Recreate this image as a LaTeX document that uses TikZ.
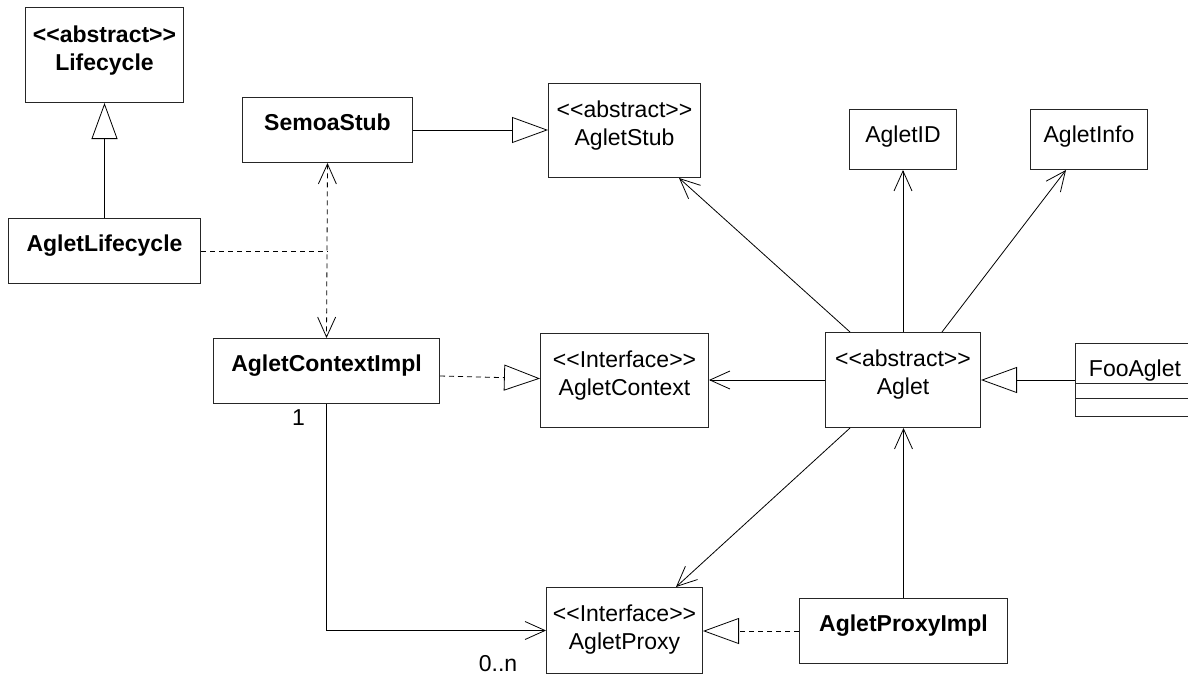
\documentclass[tikz,border=0pt]{standalone}
\usepackage{fontspec}
\setmainfont{Liberation Sans}
\usetikzlibrary{arrows.meta}
\tikzset{
  cls/.style={draw=black!85, line width=1pt, inner sep=0pt, anchor=north west},
  ttl/.style={anchor=north, align=center, inner sep=0pt, font=\fontsize{23}{28.5}\selectfont},
  bttl/.style={ttl, font=\fontsize{23}{28.5}\selectfont\bfseries},
  mult/.style={inner sep=0pt, font=\fontsize{23}{28}\selectfont},
  gen/.style={-{Triangle[open, length=36pt, width=26pt]}},
  nav/.style={-{Straight Barb[length=20pt, width=18pt]}},
  dep/.style={dash pattern=on 5pt off 4pt},
}

\begin{document}
\begin{tikzpicture}[x=1pt, y=-1pt, line width=0.8pt]
\useasboundingbox (0,0) rectangle (1188,675);
\clip (0,0) rectangle (1188,675);

% classes
\node[cls, minimum width=158pt, minimum height=95pt] (lifecycle) at (25,7) {};
\node[bttl] (lifecycle-t) at ([yshift=-18pt]lifecycle.north) {<{}<abstract>{}>\\Lifecycle};

\node[cls, minimum width=192pt, minimum height=65pt] (agletlifecycle) at (8,218) {};
\node[bttl] (agletlifecycle-t) at ([yshift=-16pt]agletlifecycle.north) {AgletLifecycle};

\node[cls, minimum width=170pt, minimum height=65pt] (semoastub) at (242,97) {};
\node[bttl] (semoastub-t) at ([yshift=-16pt]semoastub.north) {SemoaStub};

\node[cls, minimum width=152pt, minimum height=94pt] (agletstub) at (548,83) {};
\node[ttl] (agletstub-t) at ([yshift=-17pt]agletstub.north) {<{}<abstract>{}>\\AgletStub};

\node[cls, minimum width=107pt, minimum height=60pt] (agletid) at (849,109) {};
\node[ttl] (agletid-t) at ([yshift=-16pt]agletid.north) {AgletID};

\node[cls, minimum width=117pt, minimum height=60pt] (agletinfo) at (1030,109) {};
\node[ttl] (agletinfo-t) at ([yshift=-16pt]agletinfo.north) {AgletInfo};

\node[cls, minimum width=226pt, minimum height=65pt] (contextimpl) at (213,338) {};
\node[bttl] (contextimpl-t) at ([yshift=-16pt]contextimpl.north) {AgletContextImpl};

\node[cls, minimum width=168pt, minimum height=94pt] (agletcontext) at (540,333) {};
\node[ttl] (agletcontext-t) at ([yshift=-17pt]agletcontext.north) {<{}<Interface>{}>\\AgletContext};

\node[cls, minimum width=155pt, minimum height=95pt] (aglet) at (825,332) {};
\node[ttl] (aglet-t) at ([yshift=-17pt]aglet.north) {<{}<abstract>{}>\\Aglet};

\node[cls, minimum width=119pt, minimum height=73pt] (fooaglet) at (1075,343) {};
\node[ttl] (fooaglet-t) at ([yshift=-16pt]fooaglet.north) {FooAglet};
\draw[draw=black!85, line width=1pt] ([yshift=-40pt]fooaglet.north west) -- ([yshift=-40pt]fooaglet.north east);
\draw[draw=black!85, line width=1pt] ([yshift=-55pt]fooaglet.north west) -- ([yshift=-55pt]fooaglet.north east);

\node[cls, minimum width=156pt, minimum height=86pt] (agletproxy) at (546,587) {};
\node[ttl] (agletproxy-t) at ([yshift=-17pt]agletproxy.north) {<{}<Interface>{}>\\AgletProxy};

\node[cls, minimum width=208pt, minimum height=65pt] (proxyimpl) at (799,598) {};
\node[bttl] (proxyimpl-t) at ([yshift=-16pt]proxyimpl.north) {AgletProxyImpl};

% generalisations
\draw[gen] (agletlifecycle.north) -- (lifecycle.south);
\draw[gen] (semoastub.east) -- (semoastub.east -| agletstub.west);
\draw[gen] (fooaglet.west) -- (fooaglet.west -| aglet.east);
\draw[gen, dep] ([yshift=-5pt]contextimpl.east) -- ([yshift=2pt]agletcontext.west);
\draw[gen, dep] (proxyimpl.west) -- (proxyimpl.west -| agletproxy.east);

% dependencies
\draw[dep, {Straight Barb[length=20pt, width=18pt]}-{Straight Barb[length=20pt, width=18pt]}] (semoastub.south) -- (contextimpl.north);
\coordinate (assoc) at (semoastub.south |- agletlifecycle.east);
\draw[dep] (agletlifecycle.east) -- (assoc);

% navigable associations
\draw[nav] (aglet.west) -- (aglet.west -| agletcontext.east);
\draw[nav] ([xshift=25pt]aglet.north west) -- ([xshift=-22pt]agletstub.south east);
\draw[nav] (aglet.north) -- (agletid.south);
\draw[nav] ([xshift=-39pt]aglet.north east) -- ([xshift=36pt]agletinfo.south west);
\draw[nav] ([xshift=25pt]aglet.south west) -- ([xshift=-27pt]agletproxy.north east);
\draw[nav] (proxyimpl.north) -- (proxyimpl.north |- aglet.south);
\draw[nav] (contextimpl.south) node[mult, xshift=-28pt, yshift=-14pt] (m-one) {1}
  |- (agletproxy.west) node[mult, xshift=-48pt, yshift=-33pt] (m-many) {0..n};
\end{tikzpicture}
\end{document}
